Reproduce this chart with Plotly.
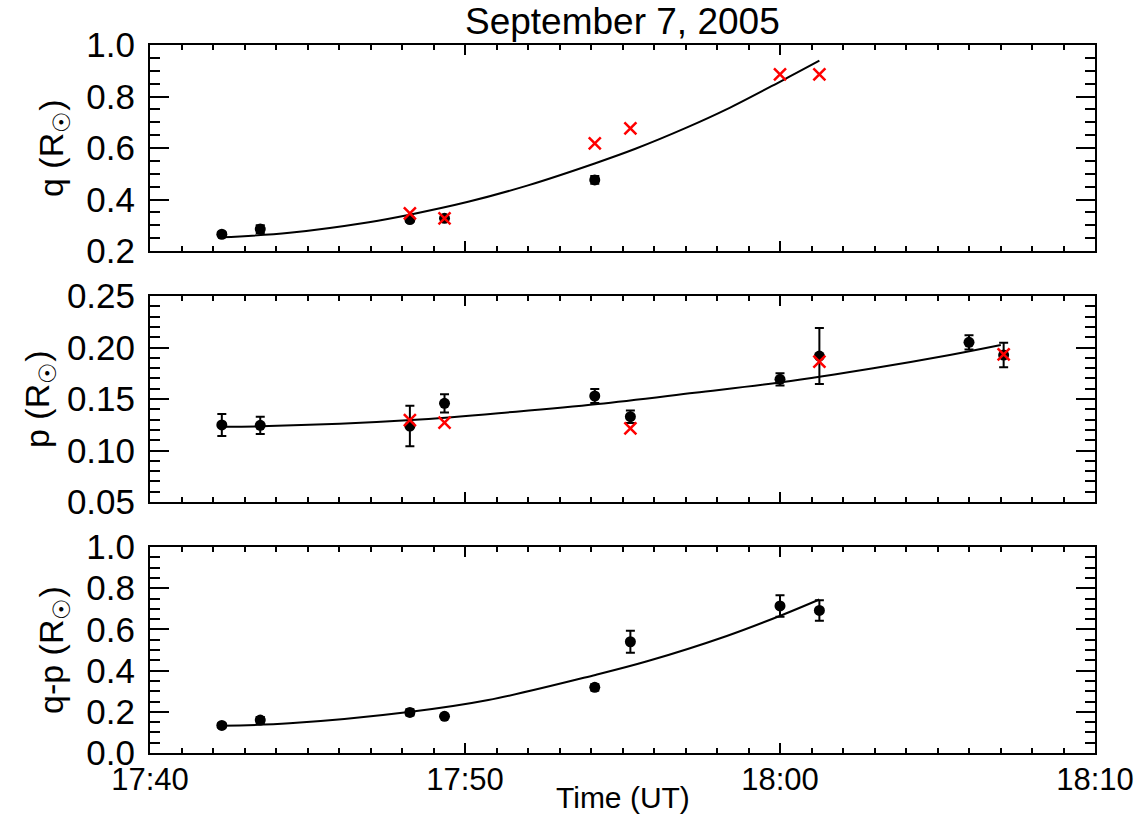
import plotly.graph_objects as go

# ---------------- data (minutes after 17:40 UT) ----------------
t_obs = [2.28, 3.50, 8.25, 9.35, 14.12, 15.25, 20.00, 21.25, 26.00, 27.10]

# q panel
q_obs = [0.265, 0.285, 0.322, 0.327, 0.476]
q_err = [0.008, 0.015, 0.008, 0.010, 0.015]
t_q_red = [8.25, 9.35, 14.12, 15.25, 20.00, 21.25]
q_red = [0.346, 0.327, 0.618, 0.676, 0.886, 0.886]
t_q_fit = [2.28, 4.43, 6.95, 8.28, 10.10, 12.00, 14.14, 15.41, 17.05, 18.30, 20.07, 21.25]
q_fit = [0.253, 0.271, 0.312, 0.342, 0.391, 0.455, 0.541, 0.597, 0.680, 0.750, 0.862, 0.939]

# p panel
p_obs = [0.1248, 0.1244, 0.1238, 0.1458, 0.1529, 0.1328, 0.1691, 0.1917, 0.2050, 0.1927]
p_err = [0.0107, 0.0083, 0.0196, 0.0088, 0.0068, 0.0060, 0.0060, 0.0272, 0.0070, 0.0118]
t_p_red = [8.25, 9.35, 15.25, 21.25, 27.10]
p_red = [0.1296, 0.1270, 0.1215, 0.1862, 0.1934]
t_p_fit = [2.31, 3.52, 8.30, 11.62, 14.22, 17.29, 20.04, 22.96, 25.39, 27.01]
p_fit = [0.1231, 0.1235, 0.1296, 0.1377, 0.1451, 0.1561, 0.1662, 0.1798, 0.1927, 0.2024]

# q-p panel
qp_obs = [0.134, 0.160, 0.197, 0.178, 0.319, 0.540, 0.714, 0.692]
qp_err = [0.010, 0.015, 0.015, 0.006, 0.015, 0.053, 0.052, 0.050]
t_qp_fit = [2.28, 4.43, 8.28, 10.74, 14.14, 15.78, 18.31, 20.07, 21.25]
qp_fit = [0.1325, 0.144, 0.200, 0.257, 0.379, 0.445, 0.568, 0.670, 0.745]

x_tickvals = [0, 10, 20, 30]
x_ticktext = ["17:40", "17:50", "18:00", "18:10"]

q_ticks = [0.2, 0.4, 0.6, 0.8, 1.0]
p_ticks = [0.05, 0.10, 0.15, 0.20, 0.25]
qp_ticks = [0.0, 0.2, 0.4, 0.6, 0.8, 1.0]

# ---------------- figure ----------------
W, H = 1140, 814
FONT = "Liberation Sans, Arial, Helvetica, sans-serif"

fig = go.Figure()

def add_panel(idx, t_b, y_b, e_b, t_fit, y_fit, t_r=None, y_r=None):
    xa = "x" if idx == 1 else f"x{idx}"
    ya = "y" if idx == 1 else f"y{idx}"
    fig.add_trace(go.Scatter(x=t_fit, y=y_fit, mode="lines", xaxis=xa, yaxis=ya,
                             line=dict(color="black", width=2, shape="spline", smoothing=1.0),
                             showlegend=False, hoverinfo="skip"))
    fig.add_trace(go.Scatter(x=t_b, y=y_b, mode="markers", xaxis=xa, yaxis=ya,
                             marker=dict(symbol="circle", size=11, color="black"),
                             error_y=dict(type="data", array=e_b, visible=True,
                                          color="black", thickness=2, width=4.5),
                             showlegend=False))
    if t_r is not None:
        fig.add_trace(go.Scatter(x=t_r, y=y_r, mode="markers", xaxis=xa, yaxis=ya,
                                 marker=dict(symbol="x-thin", size=12,
                                             line=dict(color="#ff0000", width=2.5)),
                                 showlegend=False))

add_panel(1, t_obs[:5], q_obs, q_err, t_q_fit, q_fit, t_q_red, q_red)
add_panel(2, t_obs, p_obs, p_err, t_p_fit, p_fit, t_p_red, p_red)
add_panel(3, t_obs[:8], qp_obs, qp_err, t_qp_fit, qp_fit)

x0, x1 = 150 / W, 1095 / W
panels_px = [(45, 251), (296, 502), (547, 753)]
doms = [[1 - b / H, 1 - t / H] for (t, b) in panels_px]

def xaxis(anchor, labels):
    return dict(domain=[x0, x1], range=[0, 30], anchor=anchor, automargin=False,
                tickmode="array", tickvals=x_tickvals, ticktext=x_ticktext,
                showticklabels=labels, ticks="inside", ticklen=10, tickwidth=2,
                tickcolor="black", showline=True, linewidth=2, linecolor="black",
                mirror="allticks", showgrid=False, zeroline=False,
                tickfont=dict(family=FONT, size=31, color="black"),
                ticklabelstandoff=-2,
                minor=dict(dtick=1, tick0=0, ticks="inside", ticklen=5, tickwidth=2,
                           tickcolor="black", showgrid=False))

def yaxis(anchor, dom, rng, tv, fmt, mdt):
    return dict(domain=dom, range=rng, anchor=anchor, automargin=False,
                tickmode="array", tickvals=tv, ticktext=[fmt.format(v) for v in tv],
                ticks="inside", ticklen=19, tickwidth=2, tickcolor="black",
                showline=True, linewidth=2, linecolor="black", mirror="allticks",
                showgrid=False, zeroline=False,
                tickfont=dict(family=FONT, size=35, color="black"),
                ticklabelstandoff=6,
                minor=dict(dtick=mdt, tick0=rng[0], ticks="inside", ticklen=10, tickwidth=2,
                           tickcolor="black", showgrid=False))

fig.update_layout(
    width=W, height=H, margin=dict(l=0, r=0, t=0, b=0, autoexpand=False),
    paper_bgcolor="white", plot_bgcolor="white",
    font=dict(family=FONT, color="black"),
    xaxis=xaxis("y", False),
    xaxis2=xaxis("y2", False),
    xaxis3=xaxis("y3", True),
    yaxis=yaxis("x", doms[0], [0.2, 1.0], q_ticks, "{:.1f}", 0.05),
    yaxis2=yaxis("x2", doms[1], [0.05, 0.25], p_ticks, "{:.2f}", 0.01),
    yaxis3=yaxis("x3", doms[2], [0.0, 1.0], qp_ticks, "{:.1f}", 0.05),
    showlegend=False,
)

cx = (150 + 1095) / 2 / W
fig.add_annotation(text="September 7, 2005", x=cx, y=1.0, xref="paper", yref="paper",
                   xanchor="center", yanchor="top", showarrow=False, borderpad=0,
                   font=dict(family=FONT, size=37, color="black"))
fig.add_annotation(text="Time (UT)", x=cx, y=1 - 797 / H, xref="paper", yref="paper",
                   xanchor="center", yanchor="middle", showarrow=False,
                   font=dict(family=FONT, size=30, color="black"))

ytitles = [("q (R<sub>☉</sub>)", 53, 148), ("p (R<sub>☉</sub>)", 40, 399), ("q-p (R<sub>☉</sub>)", 53, 650)]
for txt, px, py in ytitles:
    fig.add_annotation(text=txt, x=px / W, y=1 - py / H, xref="paper", yref="paper",
                       xanchor="center", yanchor="middle", textangle=-90, showarrow=False,
                       font=dict(family=FONT, size=34, color="black"))

fig.write_html("out.html")
